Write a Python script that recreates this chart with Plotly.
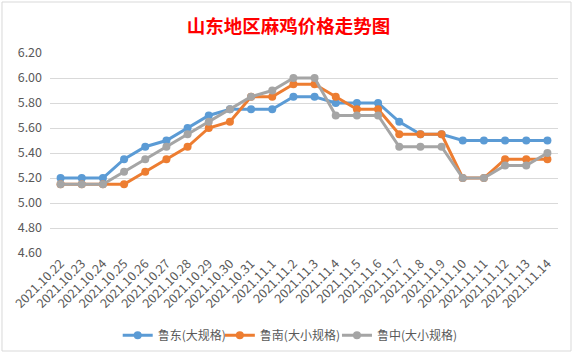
import plotly.graph_objects as go

dates = ["2021.10.22", "2021.10.23", "2021.10.24", "2021.10.25", "2021.10.26", "2021.10.27",
         "2021.10.28", "2021.10.29", "2021.10.30", "2021.10.31", "2021.11.1", "2021.11.2",
         "2021.11.3", "2021.11.4", "2021.11.5", "2021.11.6", "2021.11.7", "2021.11.8",
         "2021.11.9", "2021.11.10", "2021.11.11", "2021.11.12", "2021.11.13", "2021.11.14"]

ludong = [5.20, 5.20, 5.20, 5.35, 5.45, 5.50, 5.60, 5.70, 5.75, 5.75, 5.75, 5.85,
          5.85, 5.80, 5.80, 5.80, 5.65, 5.55, 5.55, 5.50, 5.50, 5.50, 5.50, 5.50]
lunan = [5.15, 5.15, 5.15, 5.15, 5.25, 5.35, 5.45, 5.60, 5.65, 5.85, 5.85, 5.95,
         5.95, 5.85, 5.75, 5.75, 5.55, 5.55, 5.55, 5.20, 5.20, 5.35, 5.35, 5.35]
luzhong = [5.15, 5.15, 5.15, 5.25, 5.35, 5.45, 5.55, 5.65, 5.75, 5.85, 5.90, 6.00,
           6.00, 5.70, 5.70, 5.70, 5.45, 5.45, 5.45, 5.20, 5.20, 5.30, 5.30, 5.40]

series_names = ["鲁东(大规格)", "鲁南(大小规格)", "鲁中(大小规格)"]
series_values = [ludong, lunan, luzhong]
colors = ["#5B9BD5", "#ED7D31", "#A5A5A5"]

y_ticks = [4.60, 4.80, 5.00, 5.20, 5.40, 5.60, 5.80, 6.00, 6.20]

FONT = "Noto Sans CJK SC"
legend_ids = ["legend", "legend2", "legend3"]
legend_x = [0.204, 0.381, 0.584]

fig = go.Figure()
for name, vals, col, lid in zip(series_names, series_values, colors, legend_ids):
    fig.add_trace(go.Scatter(
        x=dates, y=vals, name=name, mode="lines+markers",
        line=dict(color=col, width=3),
        marker=dict(color=col, size=8),
        legend=lid,
    ))

legend_common = dict(orientation="h", xref="container", xanchor="left",
                     y=0.058, yref="container", yanchor="middle",
                     font=dict(size=12, color="#595959"), itemwidth=30,
                     bgcolor="rgba(0,0,0,0)")

fig.update_layout(
    width=577, height=356,
    margin=dict(l=50, r=19, t=53, b=103, autoexpand=False),
    paper_bgcolor="white", plot_bgcolor="white",
    font=dict(family=FONT, color="#595959"),
    title=dict(text="<b>山东地区麻鸡价格走势图</b>", x=0.5, xanchor="center",
               y=0.925, yref="container", yanchor="middle",
               font=dict(family=FONT, size=18.5, color="#FF0000")),
    showlegend=True,
    legend=dict(x=legend_x[0], **legend_common),
    legend2=dict(x=legend_x[1], **legend_common),
    legend3=dict(x=legend_x[2], **legend_common),
    xaxis=dict(type="category", tickangle=-45, showgrid=False, showline=False,
               ticks="", tickfont=dict(size=12.5, color="#595959"), zeroline=False,
               automargin=False, range=[-0.5, len(dates) - 0.5]),
    yaxis=dict(range=[4.60, 6.20], tickvals=y_ticks,
               ticktext=[f"{v:.2f}" for v in y_ticks],
               showgrid=True, gridcolor="#D9D9D9", gridwidth=1, zeroline=False,
               showline=False, ticks="", ticklabelstandoff=7, automargin=False,
               tickfont=dict(size=12.5, color="#595959")),
    shapes=[dict(type="rect", xref="paper", yref="paper",
                 x0=-0.0945, x1=1.0256, y0=-0.49, y1=1.255,
                 line=dict(color="#D9D9D9", width=1), fillcolor="rgba(0,0,0,0)",
                 layer="below")],
)

fig.write_html("out.html", config={"displayModeBar": False},
               post_script="document.body.style.margin='0';document.body.style.overflow='hidden';")
